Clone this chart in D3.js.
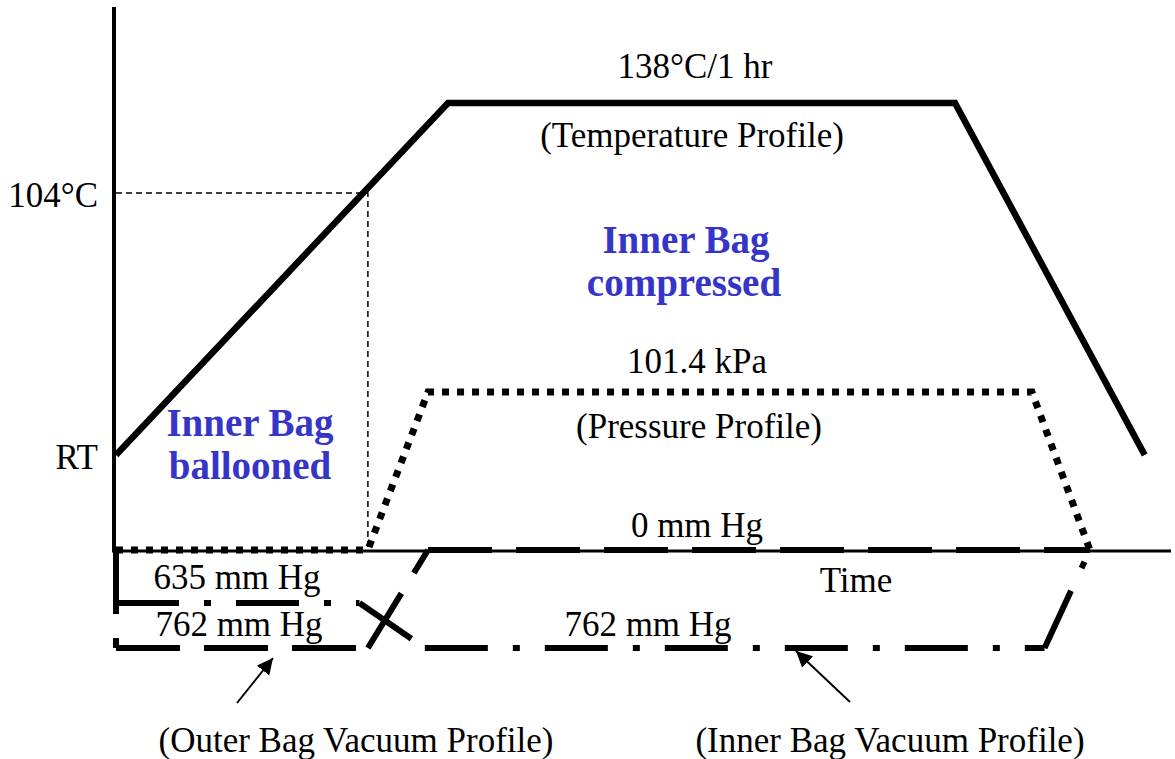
<!DOCTYPE html>
<html>
<head>
<meta charset="utf-8">
<script src="https://cdn.jsdelivr.net/npm/d3@7"></script>
<style>
  body { margin: 0; background: #fff; }
  svg text { font-family: "Liberation Serif", "Times New Roman", serif; }
</style>
</head>
<body>
<div id="chart"></div>
<script>
// schematic cure cycle: time in arbitrary units (0..100)
const tempTime = [0, 31.5, 79.6, 97.6];
const tempValue = [25, 138, 138, 25];          // °C (RT = 25)

const pressTime = [0, 23.9, 29.6, 86.9, 92.4];
const pressValue = [0, 0, 101.4, 101.4, 0];    // kPa

const outerTime = [0, 0, 23.9, 29.6, 92.4];
const outerValue = [0, 762, 762, 0, 0];        // mm Hg vacuum

const innerTime = [0, 0, 23.1, 29.3, 88.1, 92.4];
const innerValue = [0, 635, 635, 762, 762, 0]; // mm Hg vacuum

const refTemp = 104;   // dashed reference
const refTime = 23.9;

const tempTicks = [{ v: 25, label: "RT" }, { v: 104, label: "104°C" }];

let vis = {};
vis.width = 1175;
vis.height = 759;

vis.svg = d3.select("#chart")
    .append("svg")
    .attr("width", vis.width)
    .attr("height", vis.height);

// scales (schematic, so piecewise)
vis.x = d3.scaleLinear().domain([0, 100]).range([116, 1170]);
vis.yTemp = d3.scaleLinear().domain([25, 104, 138]).range([455, 193, 103]);
vis.yPress = d3.scaleLinear().domain([0, 101.4]).range([550, 392]);
vis.yVac = d3.scaleLinear().domain([0, 635, 762]).range([550, 603, 648]);

const zip = (a, b) => a.map((d, i) => [d, b[i]]);

// axes
vis.svg.append("line")
    .attr("x1", 114).attr("x2", 114)
    .attr("y1", 7).attr("y2", vis.yPress(0))
    .attr("stroke", "#000").attr("stroke-width", 4);
vis.svg.append("line")
    .attr("x1", 112).attr("x2", 1171)
    .attr("y1", vis.yPress(0) + 1).attr("y2", vis.yPress(0) + 1)
    .attr("stroke", "#000").attr("stroke-width", 3);

// 104°C dashed reference
vis.svg.append("path")
    .attr("d", d3.line()([
        [vis.x(0), vis.yTemp(refTemp)],
        [vis.x(refTime), vis.yTemp(refTemp)],
        [vis.x(refTime), vis.yPress(0)]
    ]))
    .attr("fill", "none")
    .attr("stroke", "#000")
    .attr("stroke-width", 1.5)
    .attr("stroke-dasharray", "6,4");

// temperature labels on y axis
vis.svg.selectAll(".ytick")
    .data(tempTicks)
    .join("text")
    .attr("x", 98)
    .attr("y", d => vis.yTemp(d.v) + 14)
    .attr("text-anchor", "end")
    .attr("font-size", 35)
    .text(d => d.label);

// profiles
const lineTemp = d3.line().x(d => vis.x(d[0])).y(d => vis.yTemp(d[1]));
const linePress = d3.line().x(d => vis.x(d[0])).y(d => vis.yPress(d[1]));
const lineVac = d3.line().x(d => vis.x(d[0])).y(d => vis.yVac(d[1]));

// vacuum profiles: each leg drawn on its own so the dash pattern restarts
vis.svg.selectAll(".outer")
    .data(d3.pairs(zip(outerTime, outerValue)))
    .join("path")
    .attr("d", d => lineVac(d))
    .attr("fill", "none").attr("stroke", "#000")
    .attr("stroke-width", 6)
    .attr("stroke-dasharray", "64,24");

vis.svg.selectAll(".inner")
    .data(d3.pairs(zip(innerTime, innerValue)))
    .join("path")
    .attr("d", d => lineVac(d))
    .attr("fill", "none").attr("stroke", "#000")
    .attr("stroke-width", 6)
    .attr("stroke-dasharray", "63,25,7,25");

vis.svg.append("path")
    .attr("d", linePress(zip(pressTime, pressValue)))
    .attr("fill", "none").attr("stroke", "#000")
    .attr("stroke-width", 7)
    .attr("stroke-dasharray", "7,8");

vis.svg.append("path")
    .attr("d", lineTemp(zip(tempTime, tempValue)))
    .attr("fill", "none").attr("stroke", "#000")
    .attr("stroke-width", 6.5)
    .attr("stroke-linejoin", "miter");

// text annotations
const labels = [
    { x: 695, y: 78, t: "138°C/1 hr" },
    { x: 692, y: 147, t: "(Temperature Profile)" },
    { x: 697, y: 373, t: "101.4 kPa" },
    { x: 699, y: 438, t: "(Pressure Profile)" },
    { x: 697, y: 537, t: "0 mm Hg" },
    { x: 856, y: 592, t: "Time" },
    { x: 237, y: 589, t: "635 mm Hg" },
    { x: 239, y: 636, t: "762 mm Hg" },
    { x: 648, y: 636, t: "762 mm Hg" },
    { x: 356, y: 752, t: "(Outer Bag Vacuum Profile)" },
    { x: 890, y: 752, t: "(Inner Bag Vacuum Profile)" }
];
vis.svg.selectAll(".lbl")
    .data(labels)
    .join("text")
    .attr("x", d => d.x).attr("y", d => d.y)
    .attr("text-anchor", "middle")
    .attr("font-size", 35)
    .text(d => d.t);

const blue = [
    { x: 686, y: 253, t: "Inner Bag" },
    { x: 684, y: 296, t: "compressed" },
    { x: 250, y: 436, t: "Inner Bag" },
    { x: 250, y: 479, t: "ballooned" }
];
vis.svg.selectAll(".blue")
    .data(blue)
    .join("text")
    .attr("x", d => d.x).attr("y", d => d.y)
    .attr("text-anchor", "middle")
    .attr("font-size", 39)
    .attr("font-weight", "bold")
    .attr("fill", "#3535c8")
    .text(d => d.t);

// arrows
vis.svg.append("defs").append("marker")
    .attr("id", "arrow")
    .attr("viewBox", "0 0 10 10")
    .attr("refX", 10).attr("refY", 5)
    .attr("markerWidth", 8).attr("markerHeight", 8)
    .attr("markerUnits", "strokeWidth")
    .attr("orient", "auto")
    .append("path")
    .attr("d", "M0,0L10,5L0,10Z")
    .attr("fill", "#000");

const arrows = [
    [[237, 703], [273, 658]],
    [[850, 702], [796, 651]]
];
vis.svg.selectAll(".arrow")
    .data(arrows)
    .join("line")
    .attr("x1", d => d[0][0]).attr("y1", d => d[0][1])
    .attr("x2", d => d[1][0]).attr("y2", d => d[1][1])
    .attr("stroke", "#000")
    .attr("stroke-width", 2)
    .attr("marker-end", "url(#arrow)");
</script>
</body>
</html>
